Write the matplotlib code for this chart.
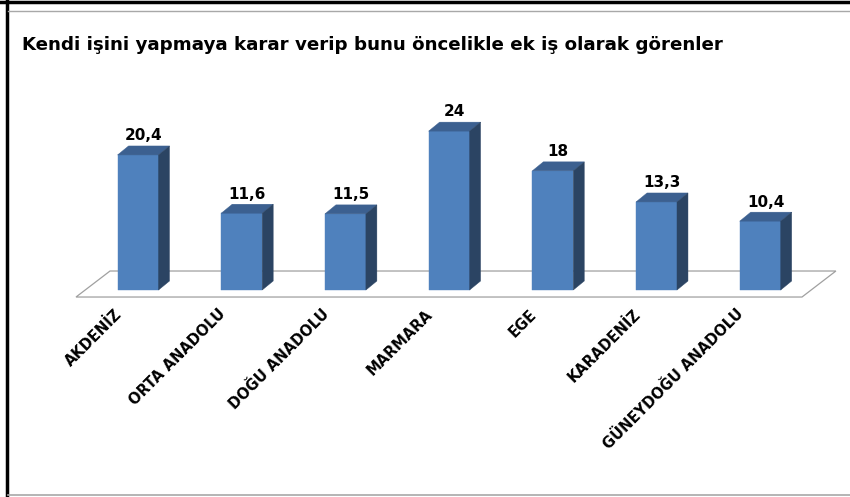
import matplotlib.pyplot as plt
from matplotlib.patches import Polygon
import numpy as np

# data
regions = ['AKDENİZ', 'ORTA ANADOLU', 'DOĞU ANADOLU', 'MARMARA', 'EGE',
           'KARADENİZ', 'GÜNEYDOĞU ANADOLU']
values = [20.4, 11.6, 11.5, 24, 18, 13.3, 10.4]
labels = ['20,4', '11,6', '11,5', '24', '18', '13,3', '10,4']
title = 'Kendi işini yapmaya karar verip bunu öncelikle ek iş olarak görenler'

# 3d look
barW = 0.395
dx = 0.106
dy = 1.36
front = '#4F81BD'
topC = '#3C6090'
sideC = '#2B4463'

fig = plt.figure(figsize=(8.5, 4.97), dpi=100)
ax = fig.add_axes([0, 0, 1, 1])
ax.set_xlim(-1.331, 6.866)
ax.set_ylim(-31.27, 43.81)
ax.axis('off')

x = np.arange(len(values))

# floor
fl = Polygon([(-0.598, -1.06), (6.403, -1.06), (6.73, 2.87), (-0.27, 2.87)],
             closed=True, facecolor='white', edgecolor='#A0A0A0', lw=0.9, zorder=1)
ax.add_patch(fl)

ax.bar(x, values, width=barW, color=front, zorder=3, edgecolor=front, lw=0.3)
for i, v in enumerate(values):
    l = x[i] - barW / 2
    r = x[i] + barW / 2
    top = Polygon([(l, v), (r, v), (r + dx, v + dy), (l + dx, v + dy)],
                  closed=True, facecolor=topC, edgecolor=topC, lw=0.3, zorder=3)
    side = Polygon([(r, 0), (r + dx, dy), (r + dx, v + dy), (r, v)],
                   closed=True, facecolor=sideC, edgecolor=sideC, lw=0.3, zorder=3)
    ax.add_patch(top)
    ax.add_patch(side)
    ax.text(x[i] + dx / 2, v + dy + 0.4, labels[i], ha='center', va='bottom',
            fontsize=11, fontweight='bold', zorder=4)
    ax.text(x[i] - 0.23, -2.5, regions[i], ha='right', va='top', rotation=45,
            rotation_mode='anchor', fontsize=10.5, fontweight='semibold', zorder=4)

fig.text(22 / 850, 1 - 45 / 497, title, ha='left', va='center',
         fontsize=13.15, fontweight='bold')

# frame lines
fig.add_artist(plt.Line2D([0, 1], [1 - 2 / 497, 1 - 2 / 497], color='black', lw=2.5))
fig.add_artist(plt.Line2D([7 / 850, 7 / 850], [0, 1], color='black', lw=2.5))
fig.add_artist(plt.Line2D([8 / 850, 1], [1 - 11 / 497, 1 - 11 / 497], color='#A8A8A8', lw=1))
fig.add_artist(plt.Line2D([8 / 850, 1], [2 / 497, 2 / 497], color='#A8A8A8', lw=1.2))

fig.savefig('out.png', dpi=100)
